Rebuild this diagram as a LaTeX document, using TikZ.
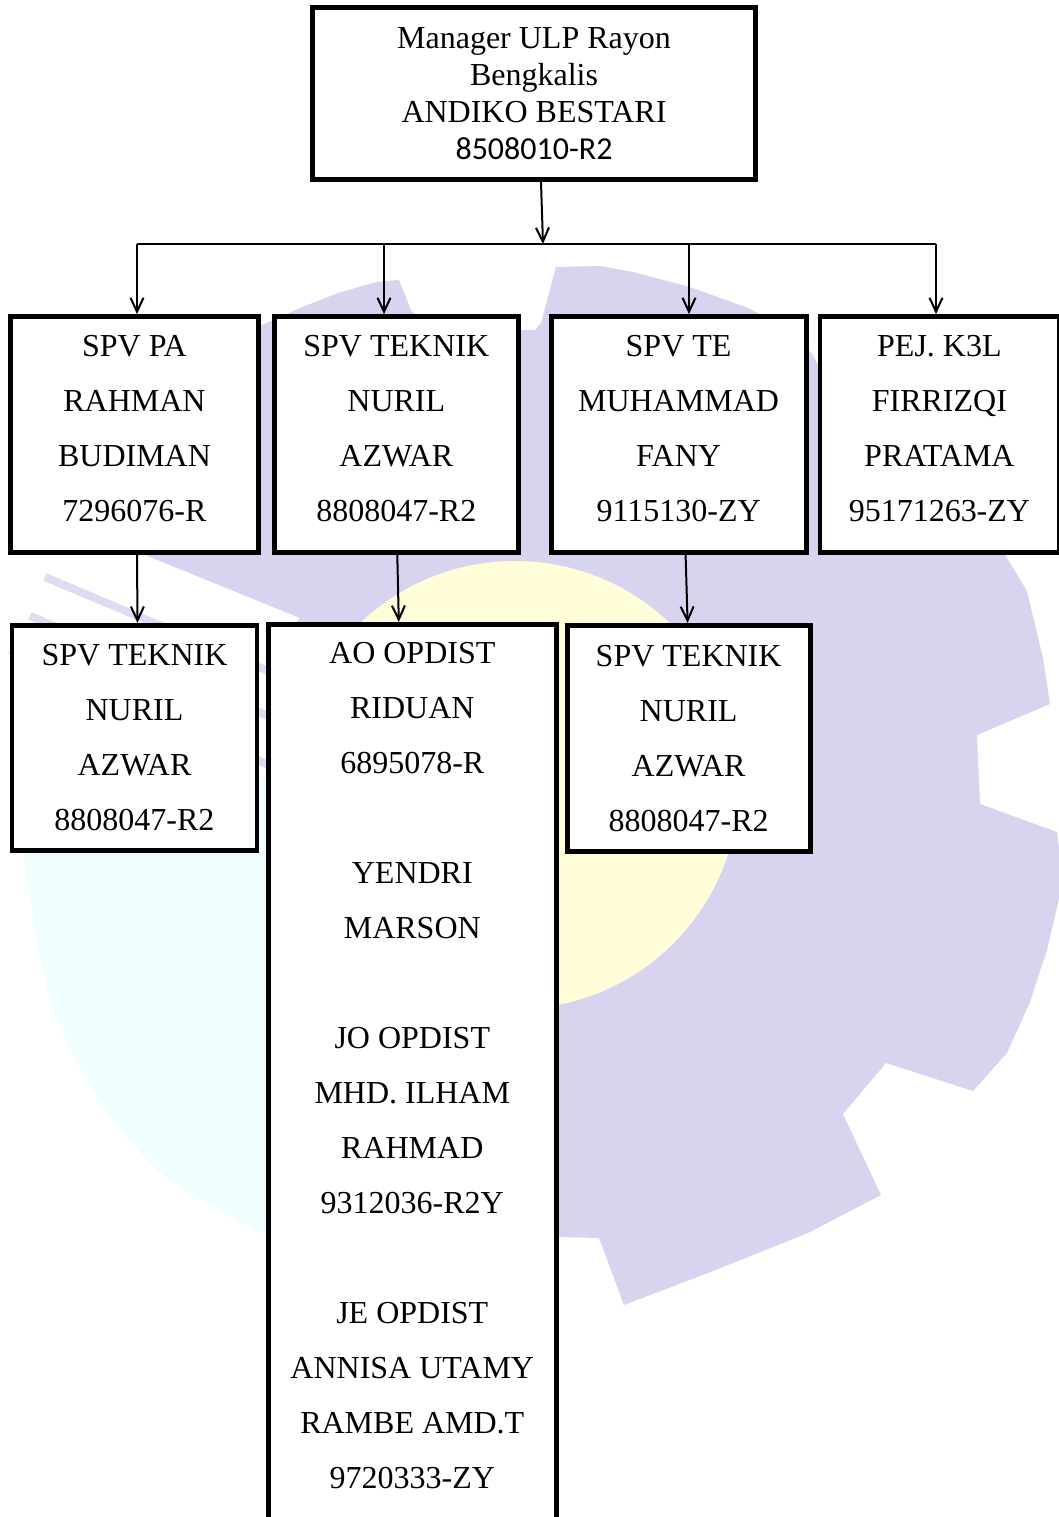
\documentclass[tikz,border=0pt]{standalone}
\usepackage{fontspec}
\setmainfont{Liberation Serif}
\newfontfamily\nipfont{Carlito}
\usetikzlibrary{arrows.meta,positioning}

\definecolor{gearlilac}{RGB}{216,212,240}
\definecolor{ringcyan}{RGB}{240,254,255}
\definecolor{suncream}{RGB}{255,254,216}

\begin{document}
\begin{tikzpicture}[
        x=0.5pt, y=-0.5pt,
        line width=1pt,
        >={Straight Barb[length=7pt,width=6.5pt]},
        orgbox/.style={draw, line width=2.4pt, outer sep=1.2pt, fill=white, align=center, inner sep=0pt, minimum height=118pt, font=\fontsize{16}{27.5}\selectfont},
        spvbox/.style={orgbox, text depth=6pt}
    ]
  \useasboundingbox (0,0) rectangle (1059,1517);
  \clip (0,0) rectangle (1059,1517);

  % Watermark behind the chart
  \fill[ringcyan] plot[smooth] coordinates {(15,790) (23,851) (50,999) (100,1101) (167,1178) (263,1234) (300,1250)} -- (300,775) -- cycle;
  \fill[gearlilac] (145,555) -- (100,400) -- (262,325) -- (300,308) -- (338,293) -- (376,282) -- (399,280) -- (403,290)
    -- (411,310) -- (430,330) -- (535,330) -- (541,323) -- (556,267) -- (600,266) -- (633,272) -- (690,287) -- (748,308)
    -- (790,330) -- (813,355) -- (850,430) -- (1000,540) -- (1007,558) -- (1027,591) -- (1043,658) -- (1050,704)
    -- (977,735) -- (980,804) -- (1057,832) -- (1062,870) -- (1059,899) -- (1047,950) -- (1030,1002) -- (1007,1053)
    -- (973,1091) -- (886,1063) -- (843,1114) -- (881,1195) -- (808,1233) -- (708,1273) -- (624,1305) -- (599,1238)
    -- (560,1237) -- (400,1200) -- (300,900) -- (280,640) -- (300,618) -- cycle;
  \draw[gearlilac!85, line width=4pt] (45,577) -- (280,676) (30,616) -- (280,721) (10,650) -- (280,770);
  \fill[suncream] (515,785) circle[radius=224];

  % Nodes
  \node[orgbox, minimum width=221.5pt, minimum height=86pt, font=\fontsize{16}{18.5}\selectfont] (mgr) at (534,93.5)
    {Manager ULP Rayon\\Bengkalis\\ANDIKO BESTARI\\{\nipfont 8508010-R2}};
  \node[spvbox, minimum width=124pt] (pa) at (134.5,434.5) {SPV PA\\RAHMAN\\BUDIMAN\\7296076-R};
  \node[spvbox, minimum width=122pt, right=5.5pt of pa] (teknik) {SPV TEKNIK\\NURIL\\AZWAR\\8808047-R2};
  \node[spvbox, minimum width=127.5pt, right=14pt of teknik] (te) {SPV TE\\MUHAMMAD\\FANY\\9115130-ZY};
  \node[spvbox, minimum width=119.5pt, right=4.5pt of te] (k3l) {PEJ. K3L\\FIRRIZQI\\PRATAMA\\95171263-ZY};

  \node[orgbox, minimum width=122.5pt, minimum height=112.5pt, below=34pt of pa] (teknikpa) {SPV TEKNIK\\NURIL\\AZWAR\\8808047-R2};
  \node[orgbox, minimum width=144pt, inner ysep=9pt, text depth=40pt, below=33.5pt of teknik, xshift=8pt] (opdist)
    {AO OPDIST\\RIDUAN\\6895078-R\\[27.5pt]YENDRI\\MARSON\\[27.5pt]JO OPDIST\\MHD. ILHAM\\RAHMAD\\9312036-R2Y\\[27.5pt]JE OPDIST\\ANNISA UTAMY\\RAMBE AMD.T\\9720333-ZY};
  \node[orgbox, minimum width=121.5pt, minimum height=113pt, below=34pt of te, xshift=5pt] (teknikte) {SPV TEKNIK\\NURIL\\AZWAR\\8808047-R2};

  % Bus line
  \coordinate (bus) at (543,244);
  \coordinate (bus-pa) at (137,244);
  \coordinate (bus-teknik) at (384,244);
  \coordinate (bus-te) at (689,244);
  \coordinate (bus-k3l) at (936,244);

  \draw[->] ([xshift=3.5pt]mgr.south) -- (bus);
  \draw (bus-pa) -- (bus-k3l);
  \draw[->] (bus-pa) -- (bus-pa |- pa.north);
  \draw[->] (bus-teknik) -- (bus-teknik |- teknik.north);
  \draw[->] (bus-te) -- (bus-te |- te.north);
  \draw[->] (bus-k3l) -- (bus-k3l |- k3l.north);

  \draw[->] ([xshift=1.25pt]pa.south) -- ([xshift=1.5pt]teknikpa.north);
  \draw[->] ([xshift=0.5pt]teknik.south) -- ([xshift=-6.75pt]opdist.north);
  \draw[->] ([xshift=3.5pt]te.south) -- ([xshift=-0.5pt]teknikte.north);
\end{tikzpicture}
\end{document}
